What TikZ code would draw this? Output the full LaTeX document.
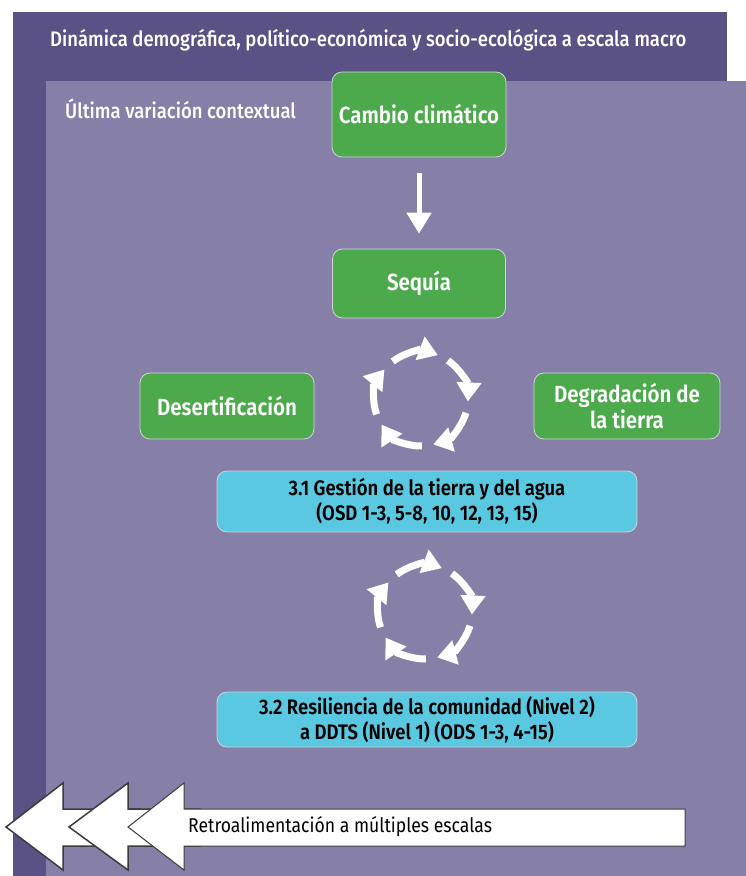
\documentclass[tikz,border=0pt]{standalone}
\usepackage{fontspec}
\setmainfont{Fira Sans}[FakeStretch=0.88]
\newfontfamily\medfont{Fira Sans Medium}[FakeStretch=0.88]
\newfontfamily\semifont{Fira Sans SemiBold}[FakeStretch=0.88]
\usetikzlibrary{arrows.meta}
\definecolor{outerpurple}{HTML}{5A5185}
\definecolor{innerpurple}{HTML}{8680A9}
\definecolor{leafgreen}{HTML}{4DAA4C}
\definecolor{skycyan}{HTML}{5BC8E2}
\definecolor{boxedge}{HTML}{D2D2D8}
\definecolor{edgegray}{HTML}{3C3C3C}
\tikzset{
  box/.style={rounded corners=10pt, draw=boxedge, line width=0.8pt, align=center, inner sep=0pt},
  greenbox/.style={box, fill=leafgreen, text=white, font=\semifont\fontsize{23.3}{26}\selectfont},
  cyanbox/.style={box, fill=skycyan, text=black, font=\semifont\fontsize{21}{25}\selectfont},
  label/.style={anchor=base west, text=white, inner sep=0pt, font=\medfont\fontsize{21}{24}\selectfont},
  cycarrow/.style={draw=white, line width=7pt, -{Triangle[width=24pt,length=19pt,fill=white]}},
  downarrow/.style={draw=white, line width=5pt, -{Triangle[width=24pt,length=21pt,fill=white]}, shorten <=16pt, shorten >=15pt},
  fbarrow/.style={fill=white, draw=edgegray, line width=1.5pt, line join=miter},
}
\begin{document}
\begin{tikzpicture}[x=1pt,y=-1pt]
\useasboundingbox (0,0) rectangle (746,876);
\fill[white] (0,0) rectangle (746,876);
% nested scale panels
\fill[outerpurple] (13,12) rectangle (727,876);
\fill[innerpurple] (46,81) rectangle (746,876);

\node[label] (macro) at (50,46) {Dinámica demográfica, político-económica y socio-ecológica a escala macro};
\node[label] (context) at (65,118) {Última variación contextual};

% drivers
\node[greenbox, minimum width=174pt, minimum height=85pt] (cambio) at (419,114.5) {Cambio climático};
\node[greenbox, minimum width=173pt, minimum height=69pt] (sequia) at (419,283.5) {Sequía};
\node[greenbox, minimum width=174pt, minimum height=66pt] (desert) at (227,406) {Desertificación};
\node[greenbox, minimum width=186pt, minimum height=66pt] (degrad) at (627,406) {Degradación de\\la tierra};
\draw[downarrow] (cambio.south) -- (sequia.north);

% responses
\node[cyanbox, minimum width=420pt, minimum height=61pt] (gestion) at (427,501.5) {3.1 Gestión de la tierra y del agua\\(OSD 1-3, 5-8, 10, 12, 13, 15)};
\node[cyanbox, minimum width=420pt, minimum height=55pt] (resil) at (427,719.5) {3.2 Resiliencia de la comunidad (Nivel 2)\\a DDTS (Nivel 1) (ODS 1-3, 4-15)};

% circular feedback loops
\coordinate (loopA) at (421,399);
\coordinate (loopB) at (425,612);
\foreach \c in {loopA,loopB}{
  \begin{scope}[shift={(\c)}, yscale=-1]
    \foreach \a in {127,55,-17,-89,-161}
      \draw[cycarrow] (\a:47) arc[start angle=\a, delta angle=-58, radius=47];
  \end{scope}
}

% multi-scale feedback arrow
\draw[fbarrow] (6,827) -- (63,783) -- (63,809) -- (140,809) -- (140,846) -- (63,846) -- (63,870) -- cycle;
\draw[fbarrow] (69,827) -- (128,783) -- (128,809) -- (200,809) -- (200,846) -- (128,846) -- (128,870) -- cycle;
\draw[fbarrow, line width=1pt] (128,827) -- (184,783) -- (184,809) -- (685,809) -- (685,846) -- (184,846) -- (184,870) -- cycle;
\node[anchor=west, inner sep=0pt, font=\fontsize{20}{24}\selectfont] (feedback) at (188,827) {Retroalimentación a múltiples escalas};
\end{tikzpicture}
\end{document}
